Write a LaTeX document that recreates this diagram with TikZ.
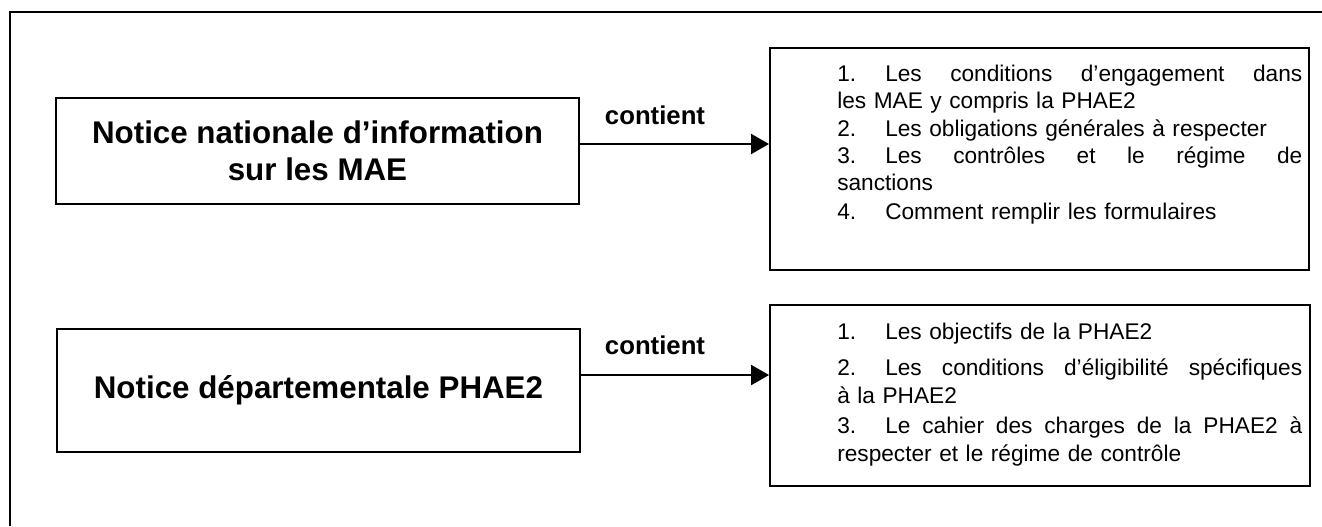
\documentclass[tikz,border=0pt]{standalone}
\usepackage{fontspec}
\setmainfont{Liberation Sans}
\usetikzlibrary{arrows.meta}
\newcommand\lnum[1]{\makebox[36pt][l]{#1}}
\newcommand\jline[1]{\makebox[348.75pt][l]{#1}}
\newcommand\gap{\hfill}
\tikzset{
  frame/.style={line width=2.2pt},
  titlebox/.style={draw, line width=1.5pt, rectangle, inner sep=0pt, align=center,
    font=\bfseries\fontsize{23.5}{27.7}\selectfont},
  listbox/.style={draw, line width=1.4pt, rectangle, inner sep=0pt},
  listtext/.style={inner sep=0pt, text width=348.75pt, align=left, anchor=north west},
  relarrow/.style={line width=1.5pt, -{Triangle[length=13.5pt,width=15pt]}},
  rellabel/.style={font=\bfseries\fontsize{19.3}{22}\selectfont, inner sep=0pt}
}
\begin{document}
\begin{tikzpicture}[x=0.75pt,y=-0.75pt]
\useasboundingbox (0,0) rectangle (1322,526);
\draw[frame] (1322,12) -- (10,12) -- (10,526);
% left boxes
\node[titlebox, minimum width=392.25pt, minimum height=79.5pt] (b1) at (317.5,151)
  {Notice nationale d’information\\sur les MAE};
\node[titlebox, minimum width=392.25pt, minimum height=92.25pt] (b2) at (318.5,390.5)
  {Notice départementale PHAE2};
% right boxes
\node[listbox, minimum width=404.25pt, minimum height=166.5pt] (r1) at (1039.5,159) {};
\node[listbox, minimum width=405pt, minimum height=135.75pt] (r2) at (1040,395.5) {};
\node[listtext, font=\fontsize{17}{20.4}\selectfont] (t1) at (837,65) {%
\jline{\lnum{1.}Les\gap conditions\gap d’engagement\gap dans}\\
les MAE y compris la PHAE2\\
\lnum{2.}Les obligations générales à respecter\\
\jline{\lnum{3.}Les\gap contrôles\gap et\gap le\gap régime\gap de}\\
sanctions\\[1.5pt]
\lnum{4.}Comment remplir les formulaires};
\node[listtext, font=\fontsize{17}{20.6}\selectfont] (t2) at (837,323) {%
\lnum{1.}Les objectifs de la PHAE2\\[6.4pt]
\jline{\lnum{2.}Les\gap conditions\gap d’éligibilité\gap spécifiques}\\
à la PHAE2\\[2.3pt]
\jline{\lnum{3.}Le\gap cahier\gap des\gap charges\gap de\gap la\gap PHAE2\gap à}\\
respecter et le régime de contrôle};
% arrows
\draw[relarrow] ([yshift=5.25pt]b1.east) -- ([yshift=5.25pt]b1.east -| r1.west);
\draw[relarrow] ([yshift=11.6pt]b2.east) -- ([yshift=11.6pt]b2.east -| r2.west);
\node[rellabel] (l1) at (655,115) {contient};
\node[rellabel] (l2) at (655,345) {contient};
\end{tikzpicture}
\end{document}
